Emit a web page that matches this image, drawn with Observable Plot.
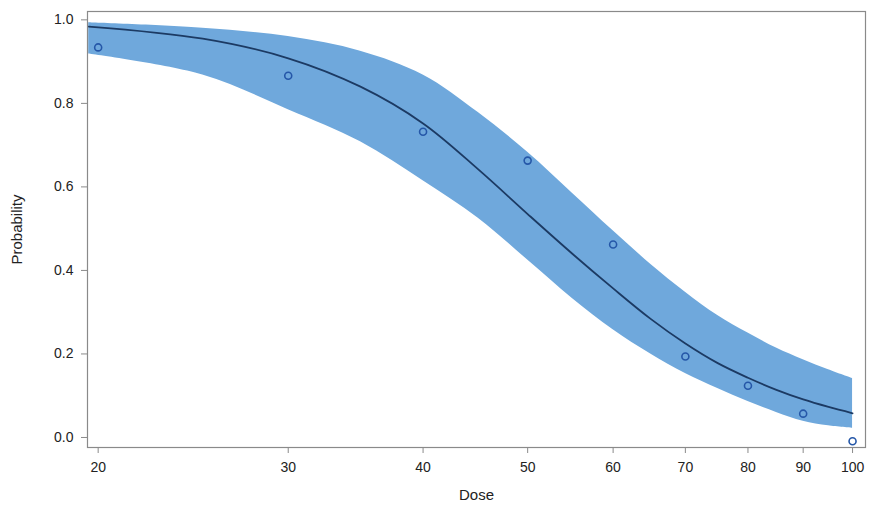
<!DOCTYPE html>
<html>
<head>
<meta charset="utf-8">
<script src="https://cdn.jsdelivr.net/npm/d3@7"></script>
<script src="https://cdn.jsdelivr.net/npm/@observablehq/plot@0.6"></script>
<style>
  html, body { margin: 0; padding: 0; background: #fff; }
  #chart { width: 871px; height: 507px; }
  svg { font-family: "Liberation Sans", Arial, sans-serif; }
</style>
</head>
<body>
<div id="chart"></div>
<script>
// Observed proportions
const obsDose = [20, 30, 40, 50, 60, 70, 80, 90, 100];
const obsProb = [0.934, 0.866, 0.732, 0.663, 0.462, 0.194, 0.124, 0.057, -0.009];

// Fitted curve and confidence band
const fitDose  = [19.6, 25, 30, 35, 40, 45, 50, 55, 60, 65, 70, 75, 80, 85, 90, 95, 100];
const fitProb  = [0.984, 0.955, 0.908, 0.840, 0.752, 0.642, 0.535, 0.440, 0.357, 0.284, 0.225, 0.178, 0.143, 0.114, 0.091, 0.073, 0.058];
const fitUpper = [0.993, 0.980, 0.960, 0.925, 0.868, 0.778, 0.683, 0.585, 0.495, 0.415, 0.348, 0.292, 0.250, 0.214, 0.186, 0.162, 0.141];
const fitLower = [0.918, 0.868, 0.785, 0.708, 0.615, 0.525, 0.425, 0.333, 0.258, 0.200, 0.153, 0.117, 0.086, 0.060, 0.039, 0.028, 0.022];

const xTicks = [20, 30, 40, 50, 60, 70, 80, 90, 100];
const yTicks = [0, 0.2, 0.4, 0.6, 0.8, 1.0];

const obs = obsDose.map((d, i) => ({dose: d, p: obsProb[i]}));
const fit = fitDose.map((d, i) => ({dose: d, p: fitProb[i], lo: fitLower[i], hi: fitUpper[i]}));

const chart = Plot.plot({
  width: 871,
  height: 507,
  marginLeft: 87,
  marginRight: 6,
  marginTop: 11,
  marginBottom: 60,
  style: {fontFamily: "'Liberation Sans', Arial, sans-serif", fontSize: "13px", color: "#222", background: "#fff"},
  x: {type: "log", domain: [19.55, 102.8], label: null},
  y: {domain: [-0.024, 1.02], label: null},
  marks: [
    Plot.areaY(fit, {x: "dose", y1: "lo", y2: "hi", fill: "#6fa8dc", curve: "catmull-rom"}),
    Plot.line(fit, {x: "dose", y: "p", stroke: "#1c3a63", strokeWidth: 1.8, curve: "catmull-rom"}),
    Plot.dot(obs, {x: "dose", y: "p", r: 3.5, stroke: "#2557a8", strokeWidth: 1.6, fill: "none"}),
    Plot.frame({stroke: "#8a8a8a", strokeWidth: 1.2}),
    Plot.axisX({ticks: xTicks, tickFormat: d => String(d), tickSize: 6, tickPadding: 9, stroke: "#8a8a8a", fontSize: 14, fill: "#222",
      label: "Dose", labelAnchor: "center", labelArrow: "none", labelOffset: 52}),
    Plot.axisY({ticks: yTicks, tickFormat: d => d.toFixed(1), tickSize: 6, tickPadding: 8, stroke: "#8a8a8a", fontSize: 14, fill: "#222",
      label: "Probability", labelAnchor: "center", labelArrow: "none", labelOffset: 76})
  ]
});
document.getElementById("chart").appendChild(chart);
// slightly larger axis titles
chart.querySelectorAll("g[aria-label='x-axis label'] text, g[aria-label='y-axis label'] text").forEach(t => t.setAttribute("font-size", 15));
</script>
</body>
</html>
